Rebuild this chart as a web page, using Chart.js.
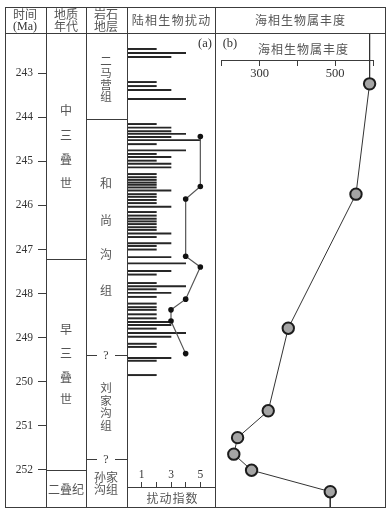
<!DOCTYPE html>
<html><head><meta charset="utf-8">
<script src="https://cdn.jsdelivr.net/npm/chart.js@4.4.0/dist/chart.umd.min.js"></script>
<style>
html,body{margin:0;padding:0;background:#fff;}
#wrap{position:relative;width:390px;height:512px;overflow:hidden;background:#fff;}
canvas{position:absolute;}
.ln{position:absolute;background:#3c3c3c;}
.t{position:absolute;transform:translate(-50%,-50%);white-space:nowrap;color:#555;font-family:"Noto Sans CJK SC",sans-serif;font-size:12px;line-height:1;}
.s{font-family:"Liberation Serif",serif;color:#333;}
</style></head><body>
<div id="wrap">
<canvas id="cT" width="50" height="512" style="left:0;top:0"></canvas>
<canvas id="cA" width="100" height="512" style="left:120px;top:0"></canvas>
<canvas id="cB" width="180" height="512" style="left:210px;top:0"></canvas>
</div>
<script>
// ---------- data ----------
const timeTicks = [243,244,245,246,247,248,249,250,251,252];
// terrestrial bioturbation records (age in Ma, index length)
const traceAge = [242.44,242.53,242.62,243.18,243.27,243.36,243.56,244.12,244.20,244.28,244.34,244.41,244.48,244.57,244.71,244.79,244.86,244.94,245.01,245.09,245.24,245.31,245.37,245.43,245.48,245.54,245.61,245.69,245.75,245.82,245.89,245.97,246.09,246.17,246.24,246.30,246.36,246.43,246.49,246.57,246.65,246.79,246.85,246.93,247.10,247.24,247.41,247.49,247.68,247.75,247.82,247.90,247.99,248.14,248.22,248.28,248.38,248.47,248.55,248.62,248.70,248.80,248.88,249.04,249.11,249.36,249.42,249.74];
const traceIndex = [2,4,3,2,2,3,4,2,3,3,4,3,5,2,4,2,3,2,3,3,2,2,2,2,2,2,3,2,2,2,2,3,2,2,2,2,2,2,2,3,2,3,2,2,3,4,3,2,2,4,2,3,2,2,2,2,2,2,3,3,2,4,3,2,2,3,2,2];
// bioturbation index curve
const curveAge = [244.40,245.52,245.80,247.08,247.32,248.04,248.28,248.53,249.26];
const curveIndex = [5,5,4,4,5,4,3,3,4];
// marine genus richness
const marineAge = [243.22,245.69,248.69,250.54,251.14,251.51,251.87,252.35];
const marineGenera = [591,555,376,323,242,232,279,487];
// tick labels
const indexTicks = [1,2,3,4,5];
const indexLabels = [1,3,5];
const marineTicks = [200,300,400,500,600];
const marineLabels = [300,500];

// ---------- scale ranges ----------
const AGE_TOP = 242.082, AGE_BOT = 252.693, AGE_BOT_A = 252.246, AXIS_B_AGE = 242.687;
const LINE = '#3c3c3c';
const common = {responsive:false, animation:false, devicePixelRatio:1,
  plugins:{legend:{display:false}, tooltip:{enabled:false}}, events:[]};

// time axis
new Chart(document.getElementById('cT'), {
  type:'scatter', data:{datasets:[]},
  options:Object.assign({}, common, {
    layout:{padding:{top:33,bottom:5,left:0,right:0}},
    scales:{
      x:{display:false,min:0,max:1},
      y:{type:'linear',reverse:true,min:AGE_TOP,max:AGE_BOT,
        afterFit:s=>{s.width=46;},
        afterBuildTicks:s=>{s.ticks=timeTicks.map(v=>({value:v}));},
        border:{display:false},
        grid:{drawOnChartArea:false,tickLength:8,color:LINE,lineWidth:1},
        ticks:{padding:5,color:'#333',font:{family:'Liberation Serif',size:11.5},callback:v=>String(v)}
      }
    }
  })
});

// panel (a)
new Chart(document.getElementById('cA'), {
  type:'bar',
  data:{datasets:[
    {type:'line', data:curveAge.map((a,i)=>({x:curveIndex[i],y:a})), borderColor:'#555', borderWidth:1.2,
     pointRadius:2.8, pointBackgroundColor:'#111', pointBorderColor:'#111', pointBorderWidth:0, order:0, clip:false},
    {type:'bar', data:traceAge.map((a,i)=>({x:traceIndex[i],y:a})), backgroundColor:'#262626', barThickness:1.3, order:1}
  ]},
  options:Object.assign({}, common, {
    indexAxis:'y',
    layout:{padding:{top:33,bottom:5,left:7,right:5}},
    scales:{
      y:{type:'linear',reverse:true,min:AGE_TOP,max:AGE_BOT_A,display:false,offset:false,grid:{offset:false}},
      x:{type:'linear',min:0,max:6,position:'bottom',
        afterFit:s=>{s.height=20;},
        afterBuildTicks:s=>{s.ticks=indexTicks.map(v=>({value:v}));},
        border:{display:true,color:LINE,width:1},
        grid:{drawOnChartArea:false,tickLength:-5,color:LINE},
        ticks:{mirror:true,padding:5,color:'#333',font:{family:'Liberation Serif',size:11.5},
          callback:v=>indexLabels.includes(v)?String(v):''}
      }
    }
  })
});

// panel (b)
const marinePts = [{x:marineGenera[0],y:AGE_TOP}]
  .concat(marineAge.map((a,i)=>({x:marineGenera[i],y:a})))
  .concat([{x:marineGenera[marineGenera.length-1],y:AGE_BOT}]);
const radii = marinePts.map((p,i)=>(i===0||i===marinePts.length-1)?0:5.7);
new Chart(document.getElementById('cB'), {
  type:'scatter',
  data:{datasets:[{data:marinePts, showLine:true, borderColor:'#333', borderWidth:1,
    pointRadius:radii, pointBackgroundColor:'#a5a5a5', pointBorderColor:'#1c1c1c', pointBorderWidth:2, clip:false}]},
  options:Object.assign({}, common, {
    layout:{padding:{top:33,bottom:5,left:11.7,right:17}},
    scales:{
      y:{type:'linear',reverse:true,min:AGE_TOP,max:AGE_BOT,display:false},
      x:{type:'linear',min:200,max:600,position:{y:AXIS_B_AGE},
        afterBuildTicks:s=>{s.ticks=marineTicks.map(v=>({value:v}));},
        border:{display:true,color:LINE,width:1},
        grid:{drawOnChartArea:false,tickLength:5,color:LINE},
        ticks:{padding:1,color:'#333',font:{family:'Liberation Serif',size:12.5},
          callback:v=>marineLabels.includes(v)?String(v):''}
      }
    }
  })
});

// ---------- table frame & text ----------
const wrap = document.getElementById('wrap');
function hline(x1,x2,y){const d=document.createElement('div');d.className='ln';d.style.left=x1+'px';d.style.top=(y-0.5)+'px';d.style.width=(x2-x1)+'px';d.style.height='1px';wrap.appendChild(d);}
function vline(x,y1,y2){const d=document.createElement('div');d.className='ln';d.style.left=(x-0.5)+'px';d.style.top=y1+'px';d.style.width='1px';d.style.height=(y2-y1)+'px';wrap.appendChild(d);}
function txt(s,x,y,cls,extra){const d=document.createElement('div');d.className='t'+(cls?' '+cls:'');d.textContent=s;d.style.left=x+'px';d.style.top=y+'px';if(extra)Object.assign(d.style,extra);wrap.appendChild(d);}

hline(5,385.5,7); hline(5,385.5,33); hline(5,385.5,507);
[5,46,86,127,215,385].forEach(x=>vline(x,7,507.5));
hline(46,86,259.5); hline(46,86,470);
hline(86,127,119.5);
hline(86,97,355.5); hline(115,127,355.5); txt('?',106,355,'s');
hline(86,97,459); hline(115,127,459); txt('?',106,459,'s');

txt('时间',25,14); txt('(Ma)',25,26,'s',{fontSize:'12px'});
txt('地质',66,14); txt('年代',66,26);
txt('岩石',106,14); txt('地层',106,26);
txt('陆相生物扰动',171,20,null,{letterSpacing:'1.3px',paddingLeft:'1.3px'});
txt('海相生物属丰度',300,20,null,{letterSpacing:'1px',paddingLeft:'1px'});

[['中',110],['三',134.5],['叠',158.5],['世',182.5],['早',329],['三',353],['叠',377],['世',399]].forEach(c=>txt(c[0],66,c[1]));
txt('二叠纪',66,489);
[['二',61],['马',73],['营',85],['组',97]].forEach(c=>txt(c[0],106,c[1],null,{fontSize:'11.5px'}));
[['和',183],['尚',219.5],['沟',254],['组',290]].forEach(c=>txt(c[0],106,c[1]));
[['刘',388],['家',401],['沟',413],['组',425.5]].forEach(c=>txt(c[0],106,c[1],null,{fontSize:'11.5px'}));
txt('孙家',106,477); txt('沟组',106,489);

txt('(a)',205,43,'s',{fontSize:'12.5px'});
txt('(b)',230,43,'s',{fontSize:'12.5px'});
txt('海相生物属丰度',303,49,null,{letterSpacing:'1px',paddingLeft:'1px'});
txt('扰动指数',172,498,null,{letterSpacing:'1px',paddingLeft:'1px'});
</script>
</body></html>
